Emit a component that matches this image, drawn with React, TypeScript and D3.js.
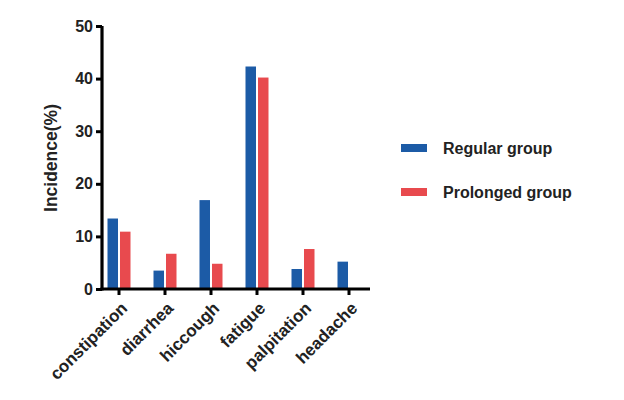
import React, { useEffect, useRef } from "react";
import * as d3 from "d3";

const categories = ["constipation", "diarrhea", "hiccough", "fatigue", "palpitation", "headache"];
const regularValues = [13.4, 3.5, 16.9, 42.3, 3.8, 5.2];
const prolongedValues = [10.9, 6.7, 4.8, 40.2, 7.6, 0];
const seriesNames = ["Regular group", "Prolonged group"];
const yTicks = [0, 10, 20, 30, 40, 50];

const colors = ["#1c5ba6", "#e84a4e"];
const font = "'Liberation Sans', Arial, sans-serif";

function App() {
  const svgRef = useRef<SVGSVGElement>(null);

  useEffect(() => {
    const svg = d3.select(svgRef.current);
    svg.selectAll("*").remove();

    // plot area
    const left = 102, right = 370, top = 26, bottom = 289;

    // each category gets a 46px slot, first centre at 119
    const x = d3.scaleBand().domain(categories).range([96, 372]).padding(0);
    const y = d3.scaleLinear().domain([0, 50]).range([bottom, top]);

    const data = categories.map((c, i) => ({ c, vals: [regularValues[i], prolongedValues[i]] }));

    const bw = 10.5, gap = 2;
    const g = svg.append("g");
    data.forEach((d) => {
      const cx = x(d.c)! + x.bandwidth() / 2;
      d.vals.forEach((v, j) => {
        if (v <= 0) return;
        const bx = j === 0 ? cx - gap / 2 - bw : cx + gap / 2;
        g.append("rect")
          .attr("x", bx)
          .attr("y", y(v))
          .attr("width", bw)
          .attr("height", y(0) - y(v))
          .attr("fill", colors[j]);
      });
    });

    // y axis
    const yAxis = svg.append("g").attr("transform", `translate(${left},0)`)
      .call(d3.axisLeft(y).tickValues(yTicks).tickSize(6).tickPadding(3));
    yAxis.select(".domain").style("stroke-width", "3.2px").style("stroke", "#000").attr("d", `M0,${top}V${bottom + 1.6}`);
    yAxis.selectAll(".tick line").style("stroke-width", "3px").style("stroke", "#000");
    yAxis.selectAll("text")
      .attr("font-family", font).attr("font-size", 16).attr("font-weight", "bold").attr("fill", "#222");

    // x axis
    const xAxis = svg.append("g").attr("transform", `translate(0,${bottom})`)
      .call(d3.axisBottom(x).tickSize(6).tickSizeOuter(0));
    xAxis.select(".domain").style("stroke-width", "3.2px").style("stroke", "#000").attr("d", `M${left - 1.6},0H${right}`);
    xAxis.selectAll(".tick line").style("stroke-width", "3px").style("stroke", "#000");
    xAxis.selectAll("text")
      .attr("font-family", font).attr("font-size", 17).attr("font-weight", "bold").attr("fill", "#222")
      .attr("text-anchor", "end")
      .attr("dy", 0)
      .attr("transform", "translate(3,14) rotate(-45)");

    // y title
    svg.append("text")
      .attr("transform", `translate(57,158) rotate(-90)`)
      .attr("text-anchor", "middle")
      .attr("font-family", font).attr("font-size", 17.5).attr("font-weight", "bold").attr("fill", "#222")
      .text("Incidence(%)");

    // legend
    const legend = svg.append("g");
    seriesNames.forEach((name, i) => {
      const ly = 148 + i * 44;
      legend.append("rect").attr("x", 401).attr("y", ly - 4).attr("width", 26).attr("height", 8).attr("fill", colors[i]);
      legend.append("text").attr("x", 443).attr("y", ly + 6)
        .attr("font-family", font).attr("font-size", 16).attr("font-weight", "bold").attr("fill", "#222")
        .text(name);
    });
  }, []);

  return <svg ref={svgRef} width={624} height={400} style={{ position: "absolute", left: 0, top: 0 }} />;
}

export default App;
